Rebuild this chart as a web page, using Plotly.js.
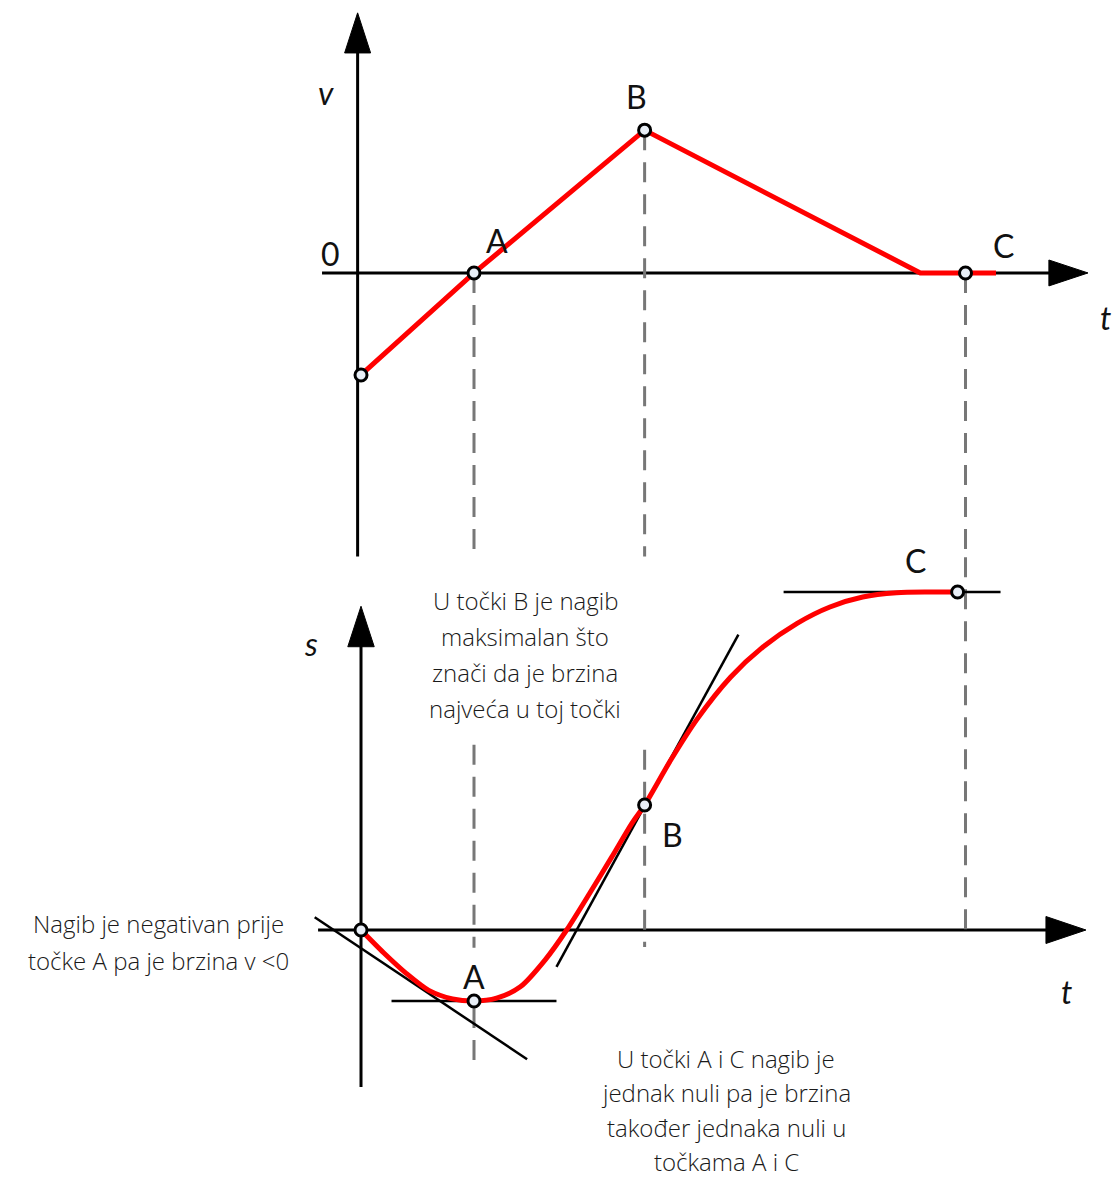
<!DOCTYPE html>
<html>
<head>
<meta charset="utf-8">
<script src="https://cdn.plot.ly/plotly-3.0.1.min.js"></script>
<style>html,body{margin:0;padding:0;background:#fff;}#chart{width:1115px;height:1178px;}</style>
</head>
<body>
<div id="chart"></div>
<script>
// ---- v(t) graph (top) ----
var vT = [0, 1.0, 2.51, 4.95, 5.35, 5.62];
var vV = [-1.0, 0, 1.40, 0, 0, 0];
var vPtsT = [0, 1.0, 2.51, 5.35];
var vPtsV = [-1.0, 0, 1.40, 0];

// ---- s(t) graph (bottom) ----
var sT = [0, 0.20, 0.40, 0.60, 0.81, 1.0, 1.20, 1.41, 1.63, 1.82, 2.04, 2.22, 2.40, 2.51, 2.74, 2.97, 3.27, 3.56, 3.86, 4.15, 4.44, 4.74, 5.04, 5.28];
var sS = [0, -0.32, -0.61, -0.85, -0.97, -1.0, -0.96, -0.80, -0.42, 0, 0.56, 1.03, 1.51, 1.76, 2.39, 2.96, 3.56, 3.99, 4.32, 4.55, 4.69, 4.75, 4.76, 4.76];
var sPtsT = [0, 1.0, 2.51, 5.28];
var sPtsS = [0, -1.0, 1.76, 4.76];

// tangents on s(t)
var tanStartT = [-0.41, 1.47], tanStartS = [0.18, -1.82];
var tanAT = [0.27, 1.73], tanAS = [-1.0, -1.0];
var tanBT = [1.73, 3.34], tanBS = [-0.52, 4.16];
var tanCT = [3.74, 5.66], tanCS = [4.76, 4.76];

// guide positions
var guideT = [1.0, 2.51, 5.35];

// labels
var topLabels = ['v', '0', 'A', 'B', 'C', 't'];
var topLabelT = [-0.31, -0.27, 1.20, 2.44, 5.69, 6.59];
var topLabelV = [1.77, 0.19, 0.32, 1.73, 0.27, -0.44];
var botLabels = ['s', 'C', 'B', 'A', 't'];
var botLabelT = [-0.44, 4.91, 2.76, 1.0, 6.24];
var botLabelS = [4.04, 5.21, 1.34, -0.65, -0.87];

var note1 = ['U točki B je nagib', 'maksimalan što', 'znači da je brzina', 'najveća u toj točki'];
var note2 = ['Nagib je negativan prije', 'točke A pa je brzina v <0'];
var note3 = ['U točki A i C nagib je', 'jednak nuli pa je brzina', 'također jednaka nuli u', 'točkama A i C'];

var W = 1115, H = 1178;
var LFONT = 'Lato, "Open Sans", sans-serif';
var NFONT = '"Open Sans", Lato, sans-serif';
var RED = '#ff0000', GRAY = '#777777';

var traces = [];
function line(x, y, ax, color, width, dash) {
  traces.push({x: x, y: y, yaxis: ax, mode: 'lines', hoverinfo: 'skip', showlegend: false,
    line: {color: color, width: width, dash: dash || 'solid'}});
}
// dashed guides
var dash = '20px,12px';
line([guideT[0], guideT[0]], [0, -2.78], 'y', GRAY, 3, dash);
line([guideT[1], guideT[1]], [vPtsV[2], -2.78], 'y', GRAY, 3, dash);
line([guideT[2], guideT[2]], [0, -2.78], 'y', GRAY, 3, dash);
line([guideT[0], guideT[0]], [2.61, -0.25], 'y2', GRAY, 3, dash);
line([guideT[0], guideT[0]], [-1.10, -1.86], 'y2', GRAY, 3, dash);
line([guideT[1], guideT[1]], [2.54, -0.24], 'y2', GRAY, 3, dash);
line([guideT[2], guideT[2]], [5.25, 0], 'y2', GRAY, 3, dash);

// tangents
line(tanStartT, tanStartS, 'y2', '#000', 2.5);
line(tanAT, tanAS, 'y2', '#000', 2.5);
line(tanBT, tanBS, 'y2', '#000', 2.5);
line(tanCT, tanCS, 'y2', '#000', 2.5);

// curves
traces.push({x: vT, y: vV, yaxis: 'y', mode: 'lines', hoverinfo: 'skip', showlegend: false,
  line: {color: RED, width: 5}});
traces.push({x: sT, y: sS, yaxis: 'y2', mode: 'lines', hoverinfo: 'skip', showlegend: false,
  line: {color: RED, width: 5, shape: 'spline', smoothing: 0.8}});

var mk = {symbol: 'circle', size: 12, color: '#e8eef6', line: {color: '#000', width: 3}};
traces.push({x: vPtsT, y: vPtsV, yaxis: 'y', mode: 'markers', marker: mk, hoverinfo: 'skip', showlegend: false});
traces.push({x: sPtsT, y: sPtsS, yaxis: 'y2', mode: 'markers', marker: mk, hoverinfo: 'skip', showlegend: false});

// axes with arrowheads (shapes)
var shapes = [];
function seg(x0, y0, x1, y1, yref) {
  shapes.push({type: 'line', xref: 'x', yref: yref, x0: x0, y0: y0, x1: x1, y1: y1, line: {color: '#000', width: 3}, layer: 'below'});
}
function tri(p, yref) {
  shapes.push({type: 'path', xref: 'x', yref: yref, path: p, fillcolor: '#000', line: {color: '#000', width: 1}});
}
// top: v axis (t=-0.03), t axis (v=0)
seg(-0.03, -2.78, -0.03, 2.2, 'y');
tri('M -0.03,2.55 L -0.145,2.157 L 0.085,2.157 Z', 'y');
seg(-0.345, 0, 6.1, 0, 'y');
tri('M 6.434,0 L 6.088,0.127 L 6.088,-0.127 Z', 'y');
// bottom: s axis (t=0), t axis (s=0)
seg(0, -2.21, 0, 4.05, 'y2');
tri('M 0,4.56 L -0.117,3.99 L 0.117,3.99 Z', 'y2');
seg(-0.38, 0, 6.07, 0, 'y2');
tri('M 6.416,0 L 6.062,0.19 L 6.062,-0.19 Z', 'y2');

var ann = [];
function lbl(text, x, y, yref, italic) {
  ann.push({text: text, x: x, y: y, xref: 'x', yref: yref, showarrow: false, xanchor: 'center', yanchor: 'middle',
    font: {family: LFONT, size: 32, color: '#111', style: italic ? 'italic' : 'normal'}});
}
topLabels.forEach(function (t, i) { lbl(t, topLabelT[i], topLabelV[i], 'y', t === 'v' || t === 't'); });
botLabels.forEach(function (t, i) { lbl(t, botLabelT[i], botLabelS[i], 'y2', t === 's' || t === 't'); });

function note(lines, cx, y0, dy) {
  lines.forEach(function (t, i) {
    ann.push({text: t, x: cx / W, y: 1 - (y0 + i * dy) / H, xref: 'paper', yref: 'paper', showarrow: false,
      xanchor: 'center', yanchor: 'middle', borderpad: 0,
      font: {family: NFONT, size: 24, weight: 300, color: '#1a1a1a'}});
  });
}
note(note1, 525, 600, 36);
note(note2, 158, 923, 37);
note(note3, 726, 1058, 34.5);

var layout = {
  width: W, height: H, margin: {l: 0, r: 0, t: 0, b: 0},
  paper_bgcolor: '#fff', plot_bgcolor: '#fff', showlegend: false, hovermode: false,
  xaxis: {range: [-3.195, 6.673], visible: false, fixedrange: true},
  yaxis: {range: [-8.873, 2.676], visible: false, fixedrange: true},
  yaxis2: {range: [-3.493, 13.099], visible: false, overlaying: 'y', fixedrange: true},
  shapes: shapes, annotations: ann
};
Plotly.newPlot('chart', traces, layout, {displayModeBar: false, staticPlot: true});
</script>
</body>
</html>
